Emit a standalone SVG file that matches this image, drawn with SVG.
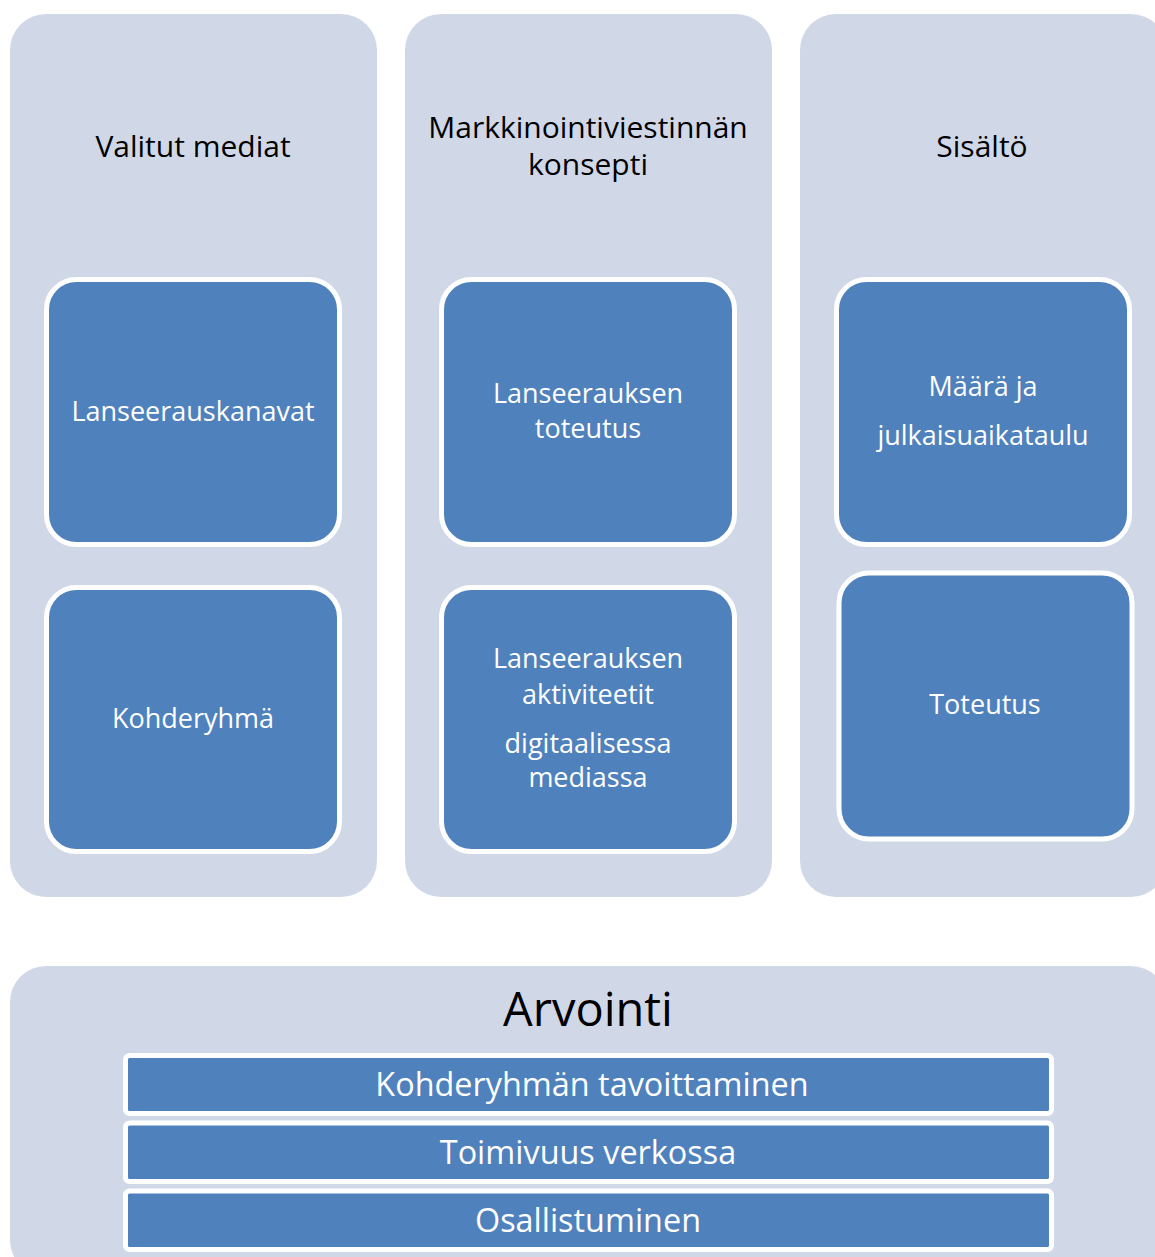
<svg xmlns="http://www.w3.org/2000/svg" width="1155" height="1257" viewBox="0 0 1155 1257">
<style>
.panel{fill:#D0D8E8;}
.box{fill:#4F81BD;stroke:#FFFFFF;stroke-width:5;}
.t{font-family:"Open Sans","Liberation Sans",sans-serif;fill:#000000;text-anchor:middle;font-size:30px;}
.w{font-family:"Open Sans","Liberation Sans",sans-serif;fill:#FFFFFF;text-anchor:middle;font-size:27px;}
.b{font-family:"Open Sans","Liberation Sans",sans-serif;fill:#FFFFFF;text-anchor:middle;font-size:32.4px;}
</style>
<rect width="1155" height="1257" fill="#FFFFFF"/>
<g id="col1">
<rect class="panel" x="10" y="14" width="367" height="883" rx="36"/>
<text class="t" x="193" y="157">Valitut mediat</text>
</g>
<g id="col2">
<rect class="panel" x="405" y="14" width="367" height="883" rx="36"/>
<text class="t" x="588" y="138">Markkinointiviestinnän</text>
<text class="t" x="588" y="175">konsepti</text>
</g>
<g id="col3">
<rect class="panel" x="800" y="14" width="367" height="883" rx="36"/>
<text class="t" x="982" y="157">Sisältö</text>
</g>
<g id="lanseerauskanavat">
<rect class="box" x="46.5" y="279.5" width="293" height="265" rx="30"/>
<text class="w" x="193" y="421">Lanseerauskanavat</text>
</g>
<g id="kohderyhma">
<rect class="box" x="46.5" y="587.5" width="293" height="264" rx="30"/>
<text class="w" x="193" y="728">Kohderyhmä</text>
</g>
<g id="toteutus1">
<rect class="box" x="441.5" y="279.5" width="293" height="265" rx="30"/>
<text class="w" x="588" y="403">Lanseerauksen</text>
<text class="w" x="588" y="438">toteutus</text>
</g>
<g id="aktiviteetit">
<rect class="box" x="441.5" y="587.5" width="293" height="264" rx="30"/>
<text class="w" x="588" y="668">Lanseerauksen</text>
<text class="w" x="588" y="704">aktiviteetit</text>
<text class="w" x="588" y="753">digitaalisessa</text>
<text class="w" x="588" y="787">mediassa</text>
</g>
<g id="maara">
<rect class="box" x="836.5" y="279.5" width="293" height="265" rx="30"/>
<text class="w" x="983" y="396">Määrä ja</text>
<text class="w" x="983" y="445">julkaisuaikataulu</text>
</g>
<g id="toteutus2">
<rect class="box" x="839" y="573" width="293" height="266" rx="30"/>
<text class="w" x="985" y="714">Toteutus</text>
</g>
<g id="arviointi">
<rect class="panel" x="10" y="966" width="1157" height="310" rx="36"/>
<text class="t" x="588" y="1026" style="font-size:47px">Arvointi</text>
</g>
<g id="bar1">
<rect class="box" x="125.5" y="1055.5" width="926" height="58" rx="4"/>
<text class="b" x="592" y="1096">Kohderyhmän tavoittaminen</text>
</g>
<g id="bar2">
<rect class="box" x="125.5" y="1123" width="926" height="58.5" rx="4"/>
<text class="b" x="588" y="1164">Toimivuus verkossa</text>
</g>
<g id="bar3">
<rect class="box" x="125.5" y="1191" width="926" height="58.5" rx="4"/>
<text class="b" x="588" y="1232">Osallistuminen</text>
</g>
<g id="connectors"></g>
</svg>
